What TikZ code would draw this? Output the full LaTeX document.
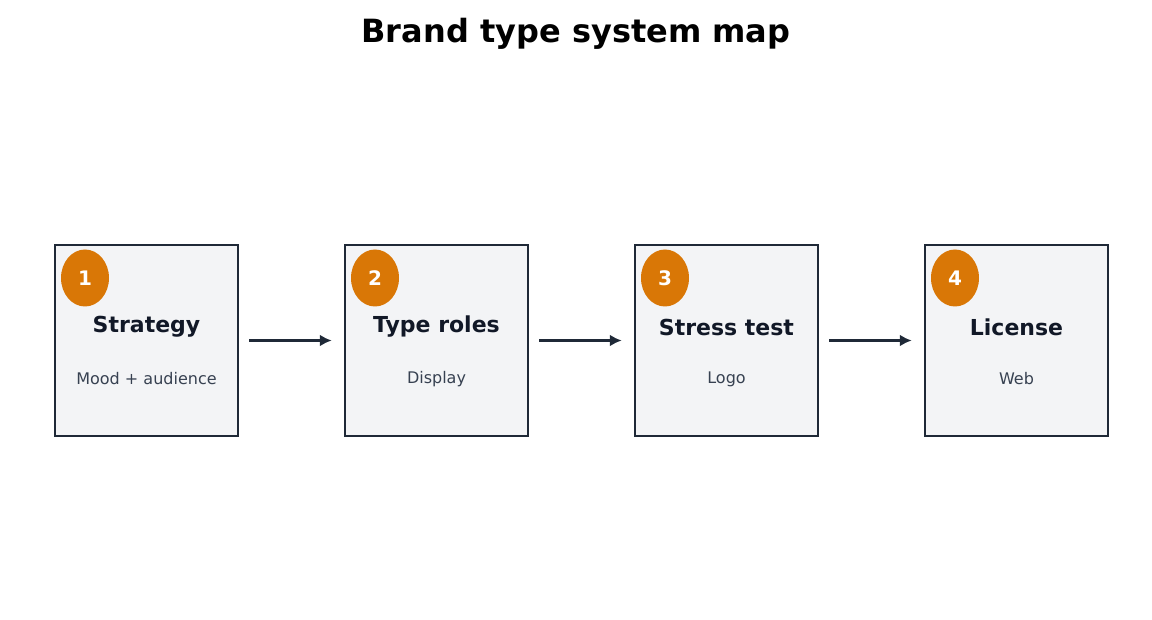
\documentclass[tikz,border=0pt]{standalone}
\usepackage{fontspec}
\setmainfont{DejaVu Sans}
\usetikzlibrary{shapes.geometric,arrows.meta}
\definecolor{dark}{HTML}{1F2937}
\definecolor{fillc}{HTML}{F3F4F6}
\definecolor{orng}{HTML}{D97706}
\definecolor{sub}{HTML}{374151}
\definecolor{ttl}{HTML}{111827}
\begin{document}
\begin{tikzpicture}[x=1pt,y=1pt,
  box/.style={draw=dark,line width=2.5pt,fill=fillc,minimum width=183pt,minimum height=191pt,inner sep=0},
  badge/.style={ellipse,fill=orng,minimum width=48pt,minimum height=57pt,inner sep=0,text=white,font=\bfseries\fontsize{20}{24}\selectfont},
  head/.style={text=ttl,font=\bfseries\fontsize{22}{26}\selectfont},
  subt/.style={text=sub,font=\fontsize{16}{19}\selectfont},
  arr/.style={draw=dark,line width=2.5pt,-{Latex[length=12pt,width=12pt]}}]
\useasboundingbox (0,0) rectangle (1152,619);
\node[font=\bfseries\fontsize{32}{38}\selectfont] (title) at (576,585) {Brand type system map};
\foreach \i/\x/\h/\s in {1/146.5/Strategy/Mood + audience,2/436.5/Type roles/Display / text / UI,3/726.5/Stress test/Logo / web / social,4/1016.5/License/Web / app / PDF}{
  \node[box] (b\i) at (\x,278.5) {};
  \node[badge] (c\i) at (\x-61.5,341) {\i};
  \node[head] (h\i) at (\x,292) {\h};
  \node[subt] (s\i) at (\x,240) {\s};
}
\foreach \a/\b in {1/2,2/3,3/4}{
  \draw[arr] ([xshift=10pt]b\a.east) -- ([xshift=-12pt]b\b.west);
}
\end{tikzpicture}
\end{document}
